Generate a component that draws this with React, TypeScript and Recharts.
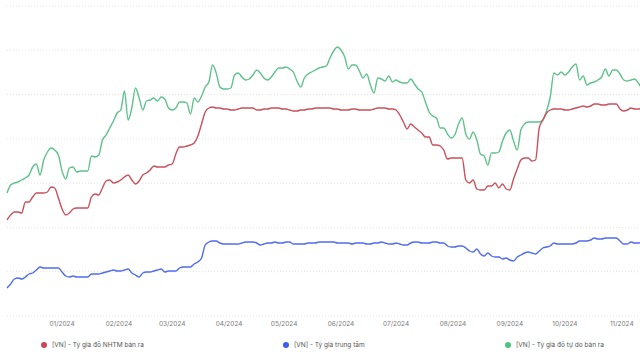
import React from 'react';
import { LineChart, Line, XAxis, YAxis, CartesianGrid } from 'recharts';

// one reading every 2 days, first one on 2023-12-02 (day -30 from 2024-01-01)
const startDay = -30;
const stepDays = 2;

const nhtmSell = [
  24260, 24310, 24340, 24340, 24330, 24440, 24440, 24490, 24530, 24530,
  24530, 24540, 24590, 24580, 24480, 24370, 24310, 24330, 24370, 24380,
  24380, 24380, 24380, 24490, 24520, 24510, 24580, 24650, 24660, 24630,
  24640, 24660, 24690, 24710, 24660, 24620, 24650, 24710, 24730, 24760,
  24800, 24790, 24790, 24790, 24810, 24820, 24920, 24990, 24990, 25000,
  25010, 25030, 25100, 25220, 25340, 25380, 25390, 25380, 25380, 25370,
  25370, 25360, 25360, 25370, 25380, 25380, 25380, 25380, 25360, 25360,
  25370, 25370, 25380, 25380, 25380, 25370, 25370, 25360, 25350, 25350,
  25360, 25360, 25370, 25370, 25380, 25380, 25380, 25380, 25380, 25370,
  25370, 25360, 25360, 25360, 25370, 25370, 25360, 25360, 25360, 25360,
  25370, 25380, 25380, 25380, 25370, 25370, 25360, 25310, 25240, 25170,
  25220, 25190, 25160, 25130, 25090, 25090, 25010, 25010, 25000, 24960,
  24870, 24880, 24880, 24880, 24880, 24660, 24630, 24660, 24570, 24560,
  24560, 24600, 24600, 24630, 24580, 24620, 24570, 24560, 24670, 24770,
  24860, 24880, 24880, 24850, 24860, 25180, 25260, 25330, 25360, 25370,
  25370, 25370, 25360, 25360, 25370, 25380, 25390, 25400, 25390, 25400,
  25420, 25420, 25410, 25410, 25420, 25420, 25420, 25370, 25350, 25360,
  25380, 25370, 25370, 25380,
];

const centralRate = [
  23580, 23620, 23670, 23680, 23670, 23690, 23720, 23730, 23760, 23790,
  23780, 23780, 23780, 23780, 23780, 23740, 23700, 23690, 23700, 23690,
  23690, 23690, 23690, 23720, 23720, 23720, 23730, 23740, 23750, 23760,
  23750, 23750, 23760, 23770, 23730, 23710, 23690, 23730, 23740, 23740,
  23750, 23760, 23770, 23740, 23750, 23750, 23750, 23780, 23790, 23790,
  23790, 23820, 23840, 23880, 24010, 24040, 24050, 24050, 24030, 24020,
  24020, 24020, 24020, 24020, 24030, 24040, 24040, 24040, 24030, 24010,
  24020, 24030, 24030, 24040, 24030, 24030, 24040, 24040, 24020, 24020,
  24020, 24020, 24030, 24030, 24030, 24040, 24040, 24040, 24040, 24040,
  24030, 24030, 24030, 24030, 24020, 24030, 24030, 24030, 24020, 24020,
  24030, 24030, 24040, 24030, 24020, 24020, 24030, 24020, 24010, 24010,
  24030, 24040, 24040, 24030, 24030, 24030, 24040, 24040, 24030, 24030,
  24000, 23990, 23990, 24000, 24000, 23980, 23950, 23940, 23970, 23920,
  23900, 23930, 23900, 23890, 23890, 23870, 23880, 23860, 23850, 23890,
  23910, 23930, 23940, 23930, 23920, 23950, 23980, 23990, 24000, 24030,
  24020, 24020, 24020, 24020, 24020, 24030, 24050, 24050, 24050, 24060,
  24080, 24070, 24070, 24080, 24080, 24080, 24080, 24050, 24020, 24020,
  24040, 24030, 24030, 24040,
];

const freeSell = [
  24530, 24610, 24630, 24640, 24660, 24680, 24710, 24790, 24820, 24710,
  24860, 24940, 24980, 24960, 24910, 24750, 24670, 24780, 24790, 24740,
  24750, 24750, 24750, 24900, 24890, 24910, 25060, 25110, 25180, 25250,
  25330, 25360, 25550, 25260, 25380, 25580, 25480, 25360, 25450, 25460,
  25480, 25450, 25490, 25470, 25380, 25360, 25380, 25440, 25440, 25430,
  25320, 25480, 25440, 25500, 25590, 25640, 25810, 25730, 25590, 25570,
  25570, 25580, 25710, 25730, 25690, 25660, 25670, 25710, 25760, 25730,
  25680, 25660, 25690, 25740, 25780, 25780, 25790, 25770, 25740, 25650,
  25590, 25680, 25720, 25740, 25760, 25780, 25790, 25800, 25880, 25950,
  25990, 25960, 25890, 25770, 25810, 25810, 25750, 25680, 25720, 25610,
  25530, 25680, 25670, 25650, 25700, 25640, 25660, 25640, 25630, 25630,
  25670, 25620, 25570, 25540, 25440, 25340, 25300, 25280, 25180, 25180,
  25120, 25080, 25110, 25220, 25280, 25120, 25070, 25140, 25060, 24920,
  24900, 24810, 24930, 24930, 24940, 25050, 25130, 25160, 25050, 24960,
  25160, 25220, 25240, 25240, 25240, 25240, 25260, 25350, 25490, 25730,
  25710, 25740, 25710, 25740, 25790, 25820, 25660, 25700, 25610, 25630,
  25640, 25660, 25690, 25770, 25700, 25760, 25760, 25720, 25660, 25650,
  25660, 25670, 25630, 25570,
];

const monthTicks = [0, 31, 60, 91, 121, 152, 182, 213, 244, 274, 305];
const monthLabels = [
  '01/2024', '02/2024', '03/2024', '04/2024', '05/2024', '06/2024',
  '07/2024', '08/2024', '09/2024', '10/2024', '11/2024',
];

const seriesNames = [
  '[VN] - Tỷ giá đô NHTM bán ra',
  '[VN] - Tỷ giá trung tâm',
  '[VN] - Tỷ giá đô tự do bán ra',
];

const yMin = 23300;
const yMax = 26400;

const data = nhtmSell.map((v, i) => ({
  day: startDay + i * stepDays,
  nhtm: v,
  central: centralRate[i],
  free: freeSell[i],
}));

const yTicks = Array.from({ length: 8 }, (_, k) => yMin + (k * (yMax - yMin)) / 7);

const RED = '#c9505c';
const BLUE = '#4f6cef';
const GREEN = '#5fc28c';

const legendItems = [
  { name: seriesNames[0], color: '#cf4453', left: 41 },
  { name: seriesNames[1], color: '#3d5cf3', left: 283 },
  { name: seriesNames[2], color: '#4cc47c', left: 505 },
];

export default function App() {
  return (
    <div
      style={{
        position: 'absolute',
        left: 0,
        top: 0,
        width: 640,
        height: 360,
        overflow: 'hidden',
        background: '#fff',
        fontFamily: 'Inter, "Noto Sans", sans-serif',
      }}
    >
      <LineChart
        width={642}
        height={360}
        data={data}
        margin={{ top: 6, right: 0, left: 7, bottom: 24 }}
      >
        <CartesianGrid vertical={false} stroke="#e4e4e4" strokeDasharray="1 2" />
        <XAxis
          dataKey="day"
          type="number"
          domain={[startDay, startDay + stepDays * (nhtmSell.length - 1)]}
          ticks={monthTicks}
          interval={0}
          tickFormatter={(d: number) => monthLabels[monthTicks.indexOf(d)]}
          axisLine={false}
          tickLine={false}
          tickSize={0}
          tickMargin={5}
          height={20}
          tick={{ fill: '#7a7a7a', fontSize: 6.5 }}
        />
        <YAxis hide domain={[yMin, yMax]} ticks={yTicks} />
        <Line
          type="monotone"
          dataKey="free"
          stroke={GREEN}
          strokeWidth={1.4}
          dot={false}
          isAnimationActive={false}
        />
        <Line
          type="monotone"
          dataKey="nhtm"
          stroke={RED}
          strokeWidth={1.4}
          dot={false}
          isAnimationActive={false}
        />
        <Line
          type="monotone"
          dataKey="central"
          stroke={BLUE}
          strokeWidth={1.4}
          dot={false}
          isAnimationActive={false}
        />
      </LineChart>
      {legendItems.map((item) => (
        <div
          key={item.name}
          style={{
            position: 'absolute',
            left: item.left,
            top: 341,
            display: 'flex',
            alignItems: 'center',
            fontSize: 6.5,
            color: '#555',
            whiteSpace: 'nowrap',
          }}
        >
          <span
            style={{
              width: 6,
              height: 6,
              borderRadius: 3,
              background: item.color,
              marginRight: 5,
              display: 'inline-block',
            }}
          />
          {item.name}
        </div>
      ))}
    </div>
  );
}
